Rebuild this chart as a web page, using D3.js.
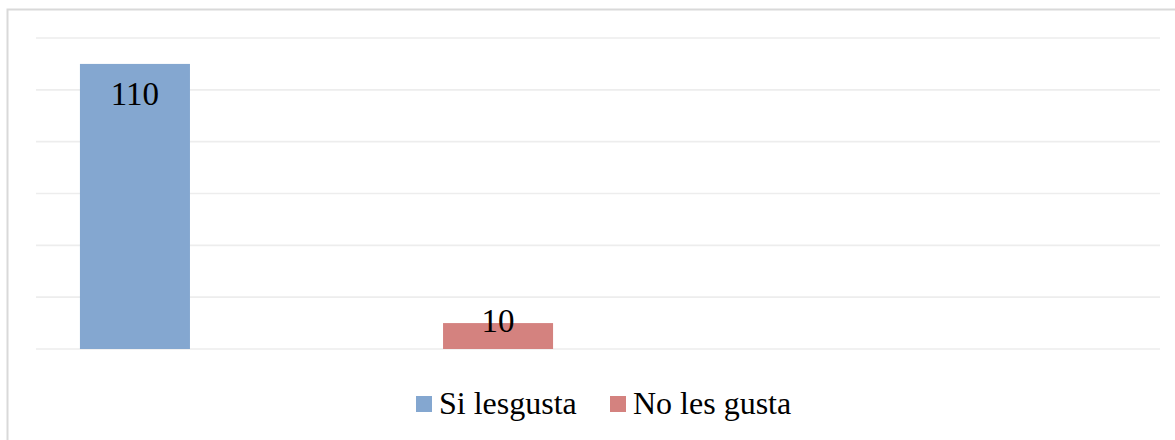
<!DOCTYPE html>
<html>
<head>
<meta charset="utf-8">
<script src="https://cdn.jsdelivr.net/npm/d3@7"></script>
<style>
body { margin: 0; background: #fff; }
svg { display: block; }
</style>
</head>
<body>
<svg width="1175" height="440"></svg>
<script>
// data
var series = ["Si lesgusta", "No les gusta"];
var values = [110, 10];
var colors = ["#84a7d0", "#d4827f"];
var yTicks = [0, 20, 40, 60, 80, 100, 120];

var serif = "'Times New Roman', 'Liberation Serif', Times, serif";

var svg = d3.select("svg"),
width = +svg.attr("width"),
height = +svg.attr("height");

// chart frame (right and bottom edges run off the picture)
svg.append("rect")
.attr("x", 7.5).attr("y", 9.5)
.attr("width", width + 20).attr("height", height + 20)
.style("fill", "#fff")
.style("stroke", "#d9d9d9")
.style("stroke-width", 2);

var plot = { left: 36, right: 1160, top: 38, bottom: 349 };

var y = d3.scaleLinear()
.domain([0, 120])
.range([plot.bottom, plot.top]);

var x = d3.scaleBand()
.domain(series)
.range([plot.left, 597])
.paddingInner(0.697)
.paddingOuter(0.121);

// gridlines
svg.append("g")
.selectAll("line")
.data(yTicks)
.enter().append("line")
.attr("x1", plot.left).attr("x2", plot.right)
.attr("y1", function (d) { return y(d) })
.attr("y2", function (d) { return y(d) })
.style("stroke", "#ededed")
.style("stroke-width", 1.6);

// bars
svg.append("g")
.selectAll("rect")
.data(values)
.enter().append("rect")
.attr("x", function (d, i) { return x(series[i]) })
.attr("width", x.bandwidth())
.attr("y", function (d) { return y(d) })
.attr("height", function (d) { return y(0) - y(d) })
.style("fill", function (d, i) { return colors[i] });

// value labels, inside end, pushed up when the bar is too short
svg.append("g")
.selectAll("text")
.data(values)
.enter().append("text")
.attr("x", function (d, i) { return x(series[i]) + x.bandwidth() / 2 })
.attr("y", function (d) { return Math.min(y(d) + 41, y(0) - 17) })
.attr("text-anchor", "middle")
.style("font-family", serif)
.style("font-size", "33px")
.style("fill", "#000")
.text(function (d) { return d });

// legend
var legendX = [416, 610];
var legend = svg.append("g")
.selectAll("g")
.data(series)
.enter().append("g")
.attr("transform", function (d, i) { return "translate(" + legendX[i] + ",396)" });

legend.append("rect")
.attr("width", 16).attr("height", 16)
.style("fill", function (d, i) { return colors[i] });

legend.append("text")
.attr("x", 23).attr("y", 18)
.style("font-family", serif)
.style("font-size", "32px")
.style("fill", "#000")
.text(function (d) { return d });
</script>
</body>
</html>
